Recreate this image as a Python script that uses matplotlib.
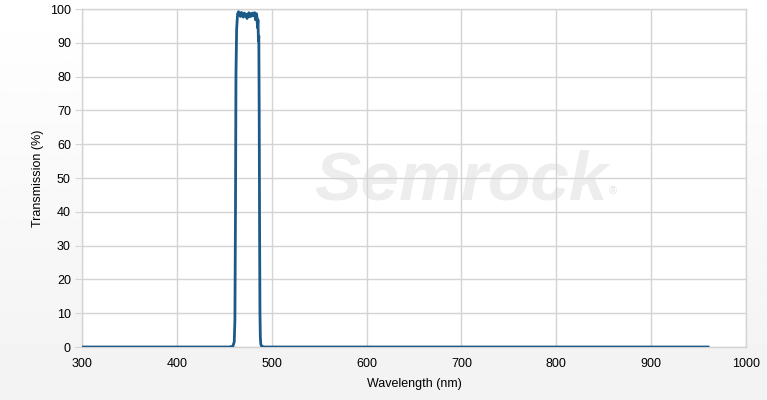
import matplotlib
matplotlib.use("Agg")
import matplotlib.pyplot as plt
import numpy as np

# Data
wavelength = [300, 455, 459, 460.5, 461.2, 461.8, 462.3, 463, 464, 465, 466, 467, 468, 469,
              470, 471, 472, 473, 474, 475, 476, 477, 478, 479, 480, 481, 482, 483,
              484, 484.5, 485, 485.5, 486, 486.4, 486.8, 487.2, 487.6, 488, 488.5, 489.5, 492, 500, 960]
transmission = [0, 0, 0.2, 1.5, 8, 40, 80, 94, 98.5, 99.2, 98.6, 97.8, 99.0, 98.2,
                97.6, 98.8, 97.9, 98.5, 97.2, 98.4, 98.9, 97.7, 98.6, 97.9, 98.8, 98.0, 98.9, 96.8,
                98.6, 97.5, 94.5, 96.8, 90.5, 92.0, 70, 35, 10, 3, 0.8, 0.2, 0, 0, 0]

x_ticks = [300, 400, 500, 600, 700, 800, 900, 1000]
y_ticks = [0, 10, 20, 30, 40, 50, 60, 70, 80, 90, 100]

plt.rcParams['font.family'] = ['Liberation Sans', 'DejaVu Sans']

fig = plt.figure(figsize=(7.67, 4.0), dpi=100)
fig.patch.set_facecolor('#f7f7f7')
# subtle gradient background
bg = fig.add_axes([0, 0, 1, 1], zorder=-10)
grad = np.linspace(0.95, 1.0, 256).reshape(-1, 1)
bg.imshow(grad, aspect='auto', cmap='gray', vmin=0, vmax=1, extent=[0, 1, 0, 1], origin='lower')
bg.axis('off')

ax = fig.add_axes([82/767, 1-347/400, (746-82)/767, (347-9)/400])
ax.set_facecolor('white')

# watermark
ax.text(0.57, 0.49, 'Semrock', transform=ax.transAxes, fontsize=50, fontweight='bold',
        fontstyle='italic', color='#ededed', ha='center', va='center', zorder=0)
ax.text(0.80, 0.462, '®', transform=ax.transAxes, fontsize=8, color='#e2e2e2',
        ha='center', va='center', zorder=0)

ax.plot(wavelength, transmission, color='#1b5a87', linewidth=2.0, zorder=3,
        solid_joinstyle='round')

ax.set_xlim(300, 1000)
ax.set_ylim(0, 100)
ax.set_xticks(x_ticks)
ax.set_yticks(y_ticks)
ax.grid(True, color='#d4d4d4', linewidth=1.0)
ax.set_axisbelow(True)
for s in ['top', 'right', 'left', 'bottom']:
    ax.spines[s].set_color('#d4d4d4')
    ax.spines[s].set_linewidth(1.0)
ax.tick_params(axis='x', length=0, labelsize=9, colors='#000000', pad=8)
ax.tick_params(axis='y', length=5, labelsize=9, colors='#000000', color='#d4d4d4', pad=3)
ax.set_xlabel('Wavelength (nm)', fontsize=9, labelpad=6)
ax.set_ylabel('Transmission (%)', fontsize=9, labelpad=4)

fig.savefig('out.png', dpi=100, facecolor=fig.get_facecolor())
